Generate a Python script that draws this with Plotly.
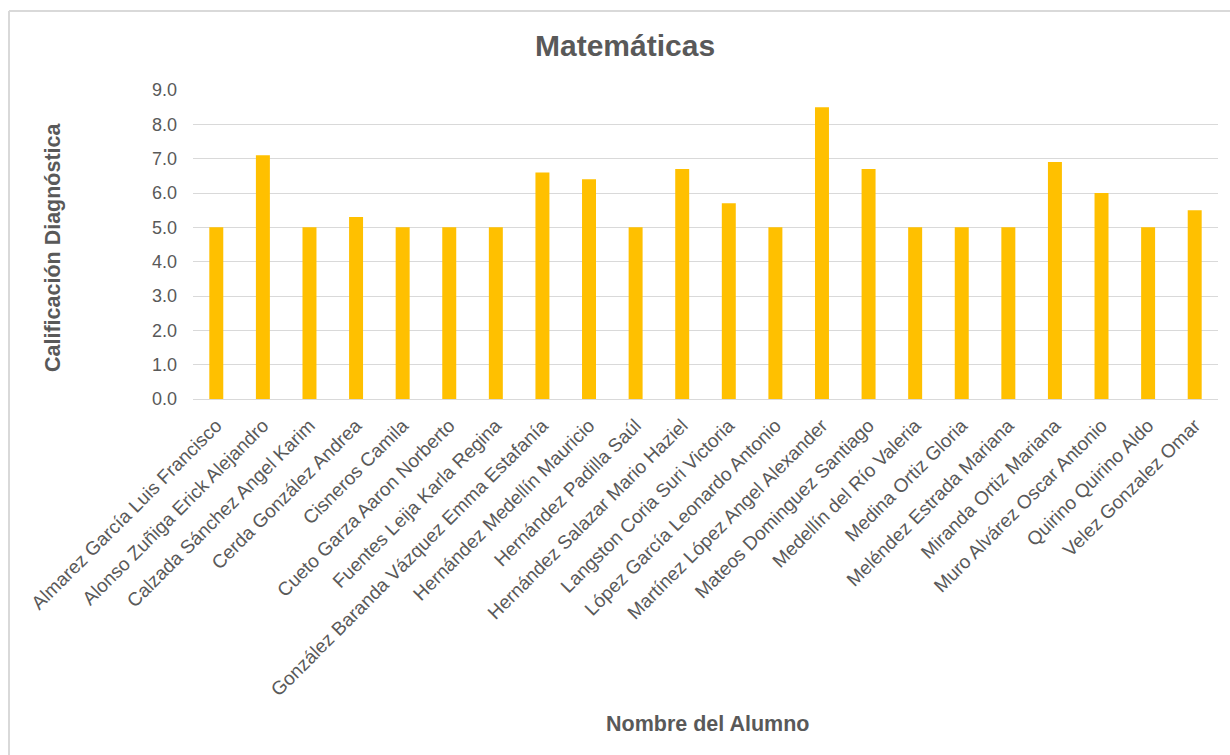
import plotly.graph_objects as go

students = [
    "Almarez García Luis Francisco",
    "Alonso Zuñiga Erick Alejandro",
    "Calzada Sánchez Angel Karim",
    "Cerda González Andrea",
    "Cisneros Camila",
    "Cueto Garza Aaron Norberto",
    "Fuentes Leija Karla Regina",
    "González Baranda Vázquez Emma Estafanía",
    "Hernández Medellín Mauricio",
    "Hernández Padilla Saúl",
    "Hernández Salazar Mario Haziel",
    "Langston Coria Suri Victoria",
    "López García Leonardo Antonio",
    "Martínez López Angel Alexander",
    "Mateos Dominguez Santiago",
    "Medellín del Río Valeria",
    "Medina Ortiz Gloria",
    "Meléndez Estrada Mariana",
    "Miranda Ortiz Mariana",
    "Muro Alvárez Oscar Antonio",
    "Quirino Quirino Aldo",
    "Velez Gonzalez Omar",
]
grades = [5.0, 7.1, 5.0, 5.3, 5.0, 5.0, 5.0, 6.6, 6.4, 5.0, 6.7,
          5.7, 5.0, 8.5, 6.7, 5.0, 5.0, 5.0, 6.9, 6.0, 5.0, 5.5]
y_ticks = [0, 1, 2, 3, 4, 5, 6, 7, 8, 9]

W, H = 1230, 755
L, R, T, B = 193, 1218, 90, 399
FONT = "Liberation Sans, Arial, sans-serif"
GRAY = "#595959"


def px(x):
    return (x - L) / (R - L)


def py(y):
    return (B - y) / (B - T)


fig = go.Figure(go.Bar(x=students, y=grades, marker_color="#FFC000",
                       marker_line_width=0, width=0.3))

fig.update_layout(
    width=W, height=H,
    margin=dict(l=L, r=W - R, t=T, b=H - B, autoexpand=False),
    paper_bgcolor="white", plot_bgcolor="white",
    showlegend=False,
    font=dict(family=FONT, color=GRAY),
    xaxis=dict(tickangle=-45, tickfont=dict(size=19, color=GRAY),
               showgrid=False, showline=True, linecolor="#d9d9d9",
               linewidth=1, ticks="", ticklabelstandoff=7, automargin=False),
    yaxis=dict(range=[0, 9], tickvals=y_ticks, tickformat=".1f",
               tickfont=dict(size=18, color=GRAY), showgrid=True,
               gridcolor="#d9d9d9", gridwidth=1, zeroline=False,
               ticks="", ticklabelstandoff=15, automargin=False),
    annotations=[
        dict(text="<b>Matemáticas</b>", x=px(625), y=py(46), xref="paper",
             yref="paper", showarrow=False, font=dict(size=30, color=GRAY),
             xanchor="center", yanchor="middle"),
        dict(text="<b>Calificación Diagnóstica</b>", x=px(53), y=py(247),
             xref="paper", yref="paper", showarrow=False, textangle=-90,
             font=dict(size=21.5, color=GRAY), xanchor="center",
             yanchor="middle"),
        dict(text="<b>Nombre del Alumno</b>", x=px(707), y=py(724),
             xref="paper", yref="paper", showarrow=False,
             font=dict(size=21.5, color=GRAY), xanchor="center",
             yanchor="middle"),
    ],
    shapes=[
        dict(type="line", xref="paper", yref="paper", x0=px(9), x1=px(1232),
             y0=py(11), y1=py(11), line=dict(color="#d9d9d9", width=2)),
        dict(type="line", xref="paper", yref="paper", x0=px(9), x1=px(9),
             y0=py(11), y1=py(757), line=dict(color="#d9d9d9", width=2)),
    ],
)

fig.write_html("out.html")
